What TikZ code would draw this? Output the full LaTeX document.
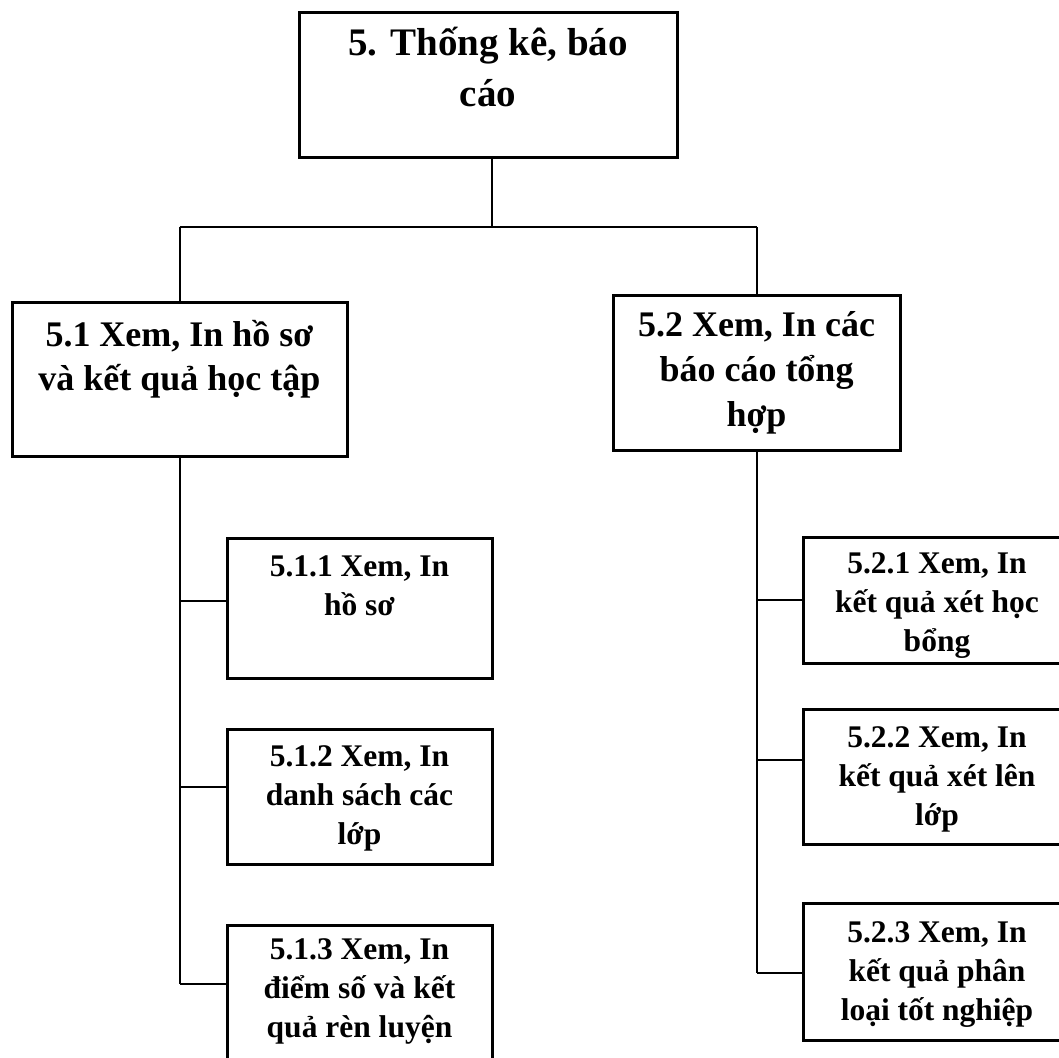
\documentclass[tikz,border=0pt]{standalone}
\usepackage{fontspec}
\setmainfont{Liberation Serif}
\usetikzlibrary{calc}
\begin{document}
\begin{tikzpicture}[x=1pt,y=-1pt,
  frame/.style={draw, line width=3pt, rectangle, inner sep=0pt},
  link/.style={draw, line width=2pt},
  txt/.style={align=center, anchor=base, inner sep=0pt},
  lvlA/.style={txt, font=\bfseries\fontsize{39}{51}\selectfont},
  lvlB/.style={txt, font=\bfseries\fontsize{36}{44}\selectfont},
  lvlC/.style={txt, font=\bfseries\fontsize{31.5}{39}\selectfont}]
\useasboundingbox (0,0) rectangle (1059,1057);
\clip (0,0) rectangle (1059,1057);

% boxes
\node[frame, minimum width=378pt, minimum height=144pt] (top) at (488,85) {};
\node[frame, minimum width=335pt, minimum height=154pt] (b51) at (179.5,379) {};
\node[frame, minimum width=287pt, minimum height=155pt] (b52) at (756.5,372.5) {};
\node[frame, minimum width=265pt, minimum height=140pt] (b511) at (359.5,608) {};
\node[frame, minimum width=265pt, minimum height=135pt] (b512) at (359.5,796.5) {};
\node[frame, minimum width=265pt, minimum height=150pt] (b513) at (359.5,1000) {};
\node[frame, minimum width=268pt, minimum height=126pt] (b521) at (937,600) {};
\node[frame, minimum width=268pt, minimum height=135pt] (b522) at (937,776.5) {};
\node[frame, minimum width=268pt, minimum height=137pt] (b523) at (937,971.5) {};

% labels (the base anchor sits on the last line)
\node[lvlA] (ttop) at ($(top.north)+(0,95)$) {5. Thống kê, báo\\cáo};
\node[lvlB] (t51) at ($(b51.north)+(0,90)$) {5.1 Xem, In hồ sơ\\và kết quả học tập};
\node[lvlB, font=\bfseries\fontsize{36}{45}\selectfont] (t52) at ($(b52.north)+(0,133)$) {5.2 Xem, In các\\báo cáo tổng\\hợp};
\node[lvlC] (t511) at ($(b511.north)+(0,79)$) {5.1.1 Xem, In\\hồ sơ};
\node[lvlC] (t512) at ($(b512.north)+(0,117)$) {5.1.2 Xem, In\\danh sách các\\lớp};
\node[lvlC] (t513) at ($(b513.north)+(0,114)$) {5.1.3 Xem, In\\điểm số và kết\\quả rèn luyện};
\node[lvlC] (t521) at ($(b521.north)+(0,116)$) {5.2.1 Xem, In\\kết quả xét học\\bổng};
\node[lvlC] (t522) at ($(b522.north)+(0,118)$) {5.2.2 Xem, In\\kết quả xét lên\\lớp};
\node[lvlC] (t523) at ($(b523.north)+(0,119)$) {5.2.3 Xem, In\\kết quả phân\\loại tốt nghiệp};

% junction and branch points
\coordinate (j0) at (492,227);
\coordinate (l1) at (179.5,601);
\coordinate (l2) at (179.5,787);
\coordinate (l3) at (179.5,984);
\coordinate (r1) at (756.5,600);
\coordinate (r2) at (756.5,760);
\coordinate (r3) at (756.5,973);

% connectors
\draw[link] (top.south -| j0) -- (j0);
\draw[link] (b51.north |- j0) -- (b52.north |- j0);
\draw[link] (b51.north |- j0) -- (b51.north);
\draw[link] (b52.north |- j0) -- (b52.north);
\draw[link] (b51.south) -- (l3);
\draw[link] (l1) -- (l1 -| b511.west);
\draw[link] (l2) -- (l2 -| b512.west);
\draw[link] (l3) -- (l3 -| b513.west);
\draw[link] (b52.south) -- (r3);
\draw[link] (r1) -- (r1 -| b521.west);
\draw[link] (r2) -- (r2 -| b522.west);
\draw[link] (r3) -- (r3 -| b523.west);
\end{tikzpicture}
\end{document}
